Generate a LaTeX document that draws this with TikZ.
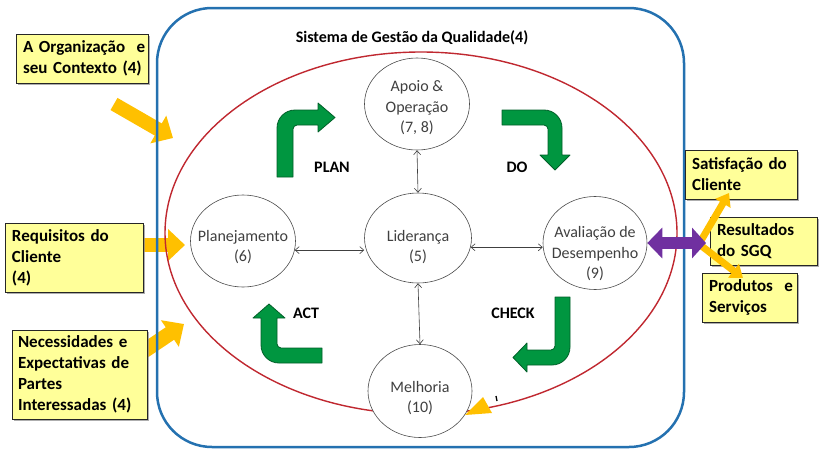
\documentclass[tikz,border=0pt]{standalone}
\usepackage{fontspec}
\setmainfont{Carlito}
\usetikzlibrary{shapes.geometric,arrows.meta,shadows,calc}
\definecolor{qblue}{RGB}{36,113,176}
\definecolor{qred}{RGB}{192,40,48}
\definecolor{qgreen}{RGB}{0,150,64}
\definecolor{qgreenD}{RGB}{0,95,40}
\definecolor{qbox}{RGB}{255,255,153}
\definecolor{qgold}{RGB}{255,192,0}
\definecolor{qpurple}{RGB}{112,48,160}
\definecolor{qtext}{RGB}{64,64,64}
\begin{document}
\begin{tikzpicture}[x=1pt,y=-1pt,
 proc/.style={ellipse,draw=black!70,line width=0.6pt,fill=white,inner sep=0pt},
 proctext/.style={align=center,text=qtext,font=\fontsize{16}{20.5}\selectfont,inner sep=0pt},
 conn/.style={draw=black!75,line width=0.6pt,{Straight Barb[length=4pt,width=7pt]}-{Straight Barb[length=4pt,width=7pt]}},
 ybox/.style={draw=black!85,line width=0.8pt,fill=qbox,align=left,inner xsep=7pt,inner ysep=0pt,
   font=\bfseries\fontsize{17}{21}\selectfont,
   drop shadow={shadow xshift=2pt,shadow yshift=-2pt,fill=black!45,opacity=0.7}},
 garrow/.style={fill=qgreen,draw=qgreenD,line width=0.8pt,line join=round},
 glabel/.style={font=\bfseries\fontsize{16}{19}\selectfont,anchor=base,inner sep=0pt},
 goldarrow/.style={draw=qgold,line width=14pt,-{Triangle[length=17pt,width=31pt]}},
 goldthin/.style={draw=qgold,line width=7pt,-{Triangle[length=12pt,width=17pt]}},
 ]
\useasboundingbox (0,0) rectangle (826,458);
\fill[white] (0,0) rectangle (826,458);

% gold arrows entering the system (under the frames)
\coordinate (orgA) at (114,104);
\coordinate (orgT) at (173,138);
\draw[goldarrow] (orgA) -- (orgT);
\coordinate (reqA) at (140,245);
\coordinate (reqT) at (185,245);
\draw[goldarrow] (reqA) -- (reqT);
\coordinate (necA) at (138,355);
\coordinate (necT) at (184,324);
\draw[goldarrow,line width=15pt] (necA) -- (necT);

% frames
\draw[qblue,line width=2.5pt,rounded corners=55pt] (157,8) rectangle (684,447);
\draw[qred,line width=1.4pt] (421,233) ellipse [x radius=256,y radius=181];

\node[font=\bfseries\fontsize{16}{19}\selectfont,anchor=base,inner sep=0pt] (title) at (412,42) {Sistema de Gestão da Qualidade(4)};

% process ellipses
\node[proc,minimum width=105pt,minimum height=92pt] (apoio) at (417,104) {};
\node[proc,minimum width=107pt,minimum height=90pt] (lid) at (418,238) {};
\node[proc,minimum width=105pt,minimum height=92pt] (plan) at (243,241) {};
\node[proc,minimum width=104pt,minimum height=93pt] (aval) at (595,243) {};
\node[proc,minimum width=104pt,minimum height=93pt] (melh) at (420,391) {};

\node[proctext] (apoioT) at (417,108) {Apoio \&\\Operação\\(7, 8)};
\node[proctext] (lidT) at (418,247) {Liderança\\(5)};
\node[proctext] (planT) at (243,247) {Planejamento\\(6)};
\node[proctext] (avalT) at (595,254) {Avaliação de\\Desempenho\\(9)};
\node[proctext] (melhT) at (420,398) {Melhoria\\(10)};

% connectors between processes
\draw[conn] (apoio.south) -- (lid.north);
\draw[conn] (lid.south) -- (melh.north);
\draw[conn] (plan.-10) -- (plan.-10 -| lid.west);
\draw[conn] (lid.-10) -- (lid.-10 -| aval.west);

% green PDCA arrows
\path[garrow] (277,177) -- (277,128) .. controls (277,118) and (285,110) .. (295,110) -- (318,110) -- (318,103) -- (335,117.5) -- (318,132) -- (318,125) -- (297,125) .. controls (295,125) and (293,127) .. (293,129) -- (293,177) -- cycle;
\path[garrow] (502,110) -- (544,110) .. controls (554,110) and (562,118) .. (562,128) -- (562,155) -- (570,155) -- (555,170) -- (540,155) -- (548,155) -- (548,129) .. controls (548,127) and (546,125) .. (544,125) -- (502,125) -- cycle;
\path[garrow] (555,297) -- (570,297) -- (570,347) .. controls (570,357) and (562,365) .. (552,365) -- (527,365) -- (527,372) -- (513,357.5) -- (527,343) -- (527,350) -- (551,350) .. controls (553,350) and (555,348) .. (555,346) -- cycle;
\path[garrow] (322,348) -- (322,363) -- (279,363) .. controls (269,363) and (261,355) .. (261,345) -- (261,318) -- (253,318) -- (269,304) -- (285,318) -- (277,318) -- (277,344) .. controls (277,346) and (279,348) .. (281,348) -- cycle;

\node[glabel] (lplan) at (332,172) {PLAN};
\node[glabel] (ldo) at (517,172) {DO};
\node[glabel] (lcheck) at (513,318) {CHECK};
\node[glabel] (lact) at (306,318) {ACT};

% gold triangle at the end of the red loop
\fill[qgold] (465,415) -- (483,397) -- (492,413) -- cycle;
\draw[black,line width=1.3pt] (496,396) -- (497,401);

% yellow boxes
\node[ybox,minimum height=49pt,text width=118pt] (org) at (82,58.5) {\mbox{A Organização\ \ e}\\\mbox{seu Contexto (4)}};
\node[ybox,minimum height=69pt,text width=124pt,inner xsep=7pt] (req) at (74,257.5) {\mbox{Requisitos do}\\Cliente\\(4)};
\node[ybox,minimum height=89pt,text width=123pt,inner xsep=6pt] (nec) at (79.5,374.5) {\mbox{Necessidades e}\\\mbox{Expectativas de}\\Partes\\\mbox{Interessadas (4)}};
\node[ybox,minimum height=49pt,text width=98pt,inner xsep=7pt] (sat) at (741,174.5) {\mbox{Satisfação do}\\Cliente};
\node[ybox,minimum height=48pt,text width=93pt,inner xsep=7pt] (res) at (763.5,241) {Resultados\\\mbox{do SGQ}};
\node[ybox,minimum height=49pt,text width=81pt,inner xsep=7pt] (prod) at (749.5,297.5) {\mbox{Produtos\ \ e}\\Serviços};

% result arrows (over the boxes)
\coordinate (junc) at (699,244);
\coordinate (satT) at (729,193);
\coordinate (prodT) at (743,278);
\draw[goldthin] (junc) -- (satT);
\draw[goldthin] (junc) -- (prodT);
\coordinate (resT) at (706,243);
\draw[qpurple,line width=12pt,{Triangle[length=15pt,width=30pt]}-{Triangle[length=14pt,width=30pt]}] (aval.east) -- (resT);
\end{tikzpicture}
\end{document}
